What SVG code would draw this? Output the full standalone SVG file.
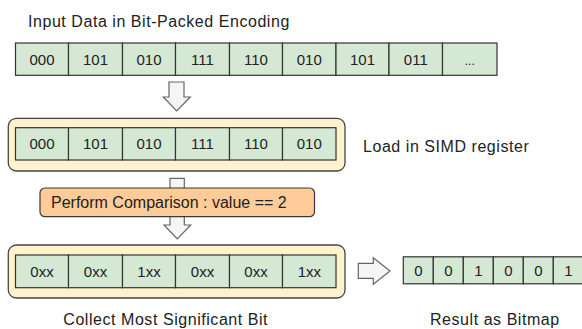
<svg xmlns="http://www.w3.org/2000/svg" width="582" height="329" viewBox="0 0 582 329">
  <style>
    text { font-family: "Liberation Sans", Arial, sans-serif; fill: #222; }
    .label { font-size: 16px; letter-spacing: 0.55px; }
    .cell-text { font-size: 15px; text-anchor: middle; }
    .cell { fill: #d5e8d4; stroke: #333; stroke-width: 1.2; }
    .register { fill: #fff2cc; stroke: #444; stroke-width: 1.3; }
    .op { fill: #ffcc99; stroke: #36393d; stroke-width: 1.2; }
    .arrow { fill: #f5f5f5; stroke: #666; stroke-width: 1.2; stroke-linejoin: miter; }
  </style>

  <!-- Input values -->
  <g id="input">
    <text class="label" x="28" y="27">Input Data in Bit-Packed Encoding</text>
    <rect class="cell" x="15.5" y="43" width="53" height="32.3"/>
    <rect class="cell" x="68.5" y="43" width="54" height="32.3"/>
    <rect class="cell" x="122.5" y="43" width="53" height="32.3"/>
    <rect class="cell" x="175.5" y="43" width="54" height="32.3"/>
    <rect class="cell" x="229.5" y="43" width="53" height="32.3"/>
    <rect class="cell" x="282.5" y="43" width="53.5" height="32.3"/>
    <rect class="cell" x="336" y="43" width="53" height="32.3"/>
    <rect class="cell" x="389" y="43" width="53.5" height="32.3"/>
    <rect class="cell" x="442.5" y="43" width="54.5" height="32.3"/>
    <text class="cell-text" x="42" y="64.5">000</text>
    <text class="cell-text" x="95.5" y="64.5">101</text>
    <text class="cell-text" x="149" y="64.5">010</text>
    <text class="cell-text" x="202.5" y="64.5">111</text>
    <text class="cell-text" x="256" y="64.5">110</text>
    <text class="cell-text" x="309.3" y="64.5">010</text>
    <text class="cell-text" x="362.5" y="64.5">101</text>
    <text class="cell-text" x="415.8" y="64.5">011</text>
    <text class="cell-text" x="469.8" y="64.5" style="font-size:12px">...</text>
  </g>

  <!-- Connectors -->
  <g id="connectors">
    <path class="arrow" d="M169,82 H184 V97 H190.3 L176.7,111 L163.3,97 H169 Z"/>
    <path class="arrow" d="M170,178.3 H184.3 V225 H190.7 L177.3,239 L164,225 H170 Z"/>
    <path class="arrow" d="M358.3,263.3 H373.3 V257.7 L390,271 L373.3,284.3 V278.3 H358.3 Z"/>
  </g>

  <!-- SIMD register after load -->
  <g id="simd-load">
    <rect class="register" x="8.3" y="118.3" width="336.7" height="52.7" rx="8"/>
    <rect class="cell" x="15.5" y="127.7" width="53" height="32.3"/>
    <rect class="cell" x="68.5" y="127.7" width="54" height="32.3"/>
    <rect class="cell" x="122.5" y="127.7" width="53" height="32.3"/>
    <rect class="cell" x="175.5" y="127.7" width="54" height="32.3"/>
    <rect class="cell" x="229.5" y="127.7" width="53" height="32.3"/>
    <rect class="cell" x="282.5" y="127.7" width="53.5" height="32.3"/>
    <text class="cell-text" x="42" y="149.3">000</text>
    <text class="cell-text" x="95.5" y="149.3">101</text>
    <text class="cell-text" x="149" y="149.3">010</text>
    <text class="cell-text" x="202.5" y="149.3">111</text>
    <text class="cell-text" x="256" y="149.3">110</text>
    <text class="cell-text" x="309.3" y="149.3">010</text>
    <text class="label" x="363" y="152">Load in SIMD register</text>
  </g>

  <!-- Comparison step -->
  <g id="compare">
    <rect class="op" x="40" y="188" width="274.5" height="28.7" rx="5"/>
    <text class="label" x="51" y="208.3" style="letter-spacing:0">Perform Comparison : value == 2</text>
  </g>

  <!-- SIMD register after comparison -->
  <g id="simd-result">
    <rect class="register" x="8.3" y="245" width="336.7" height="53" rx="8"/>
    <rect class="cell" x="15.5" y="255" width="53" height="32.7"/>
    <rect class="cell" x="68.5" y="255" width="54" height="32.7"/>
    <rect class="cell" x="122.5" y="255" width="53" height="32.7"/>
    <rect class="cell" x="175.5" y="255" width="54" height="32.7"/>
    <rect class="cell" x="229.5" y="255" width="53" height="32.7"/>
    <rect class="cell" x="282.5" y="255" width="53.5" height="32.7"/>
    <text class="cell-text" x="42" y="276.7">0xx</text>
    <text class="cell-text" x="95.5" y="276.7">0xx</text>
    <text class="cell-text" x="149" y="276.7">1xx</text>
    <text class="cell-text" x="202.5" y="276.7">0xx</text>
    <text class="cell-text" x="256" y="276.7">0xx</text>
    <text class="cell-text" x="309.3" y="276.7">1xx</text>
    <text class="label" x="63.3" y="325">Collect Most Significant Bit</text>
  </g>

  <!-- Bitmap output -->
  <g id="bitmap">
    <rect class="cell" x="403.3" y="256.8" width="30" height="27"/>
    <rect class="cell" x="433.3" y="256.8" width="30" height="27"/>
    <rect class="cell" x="463.3" y="256.8" width="30" height="27"/>
    <rect class="cell" x="493.3" y="256.8" width="30" height="27"/>
    <rect class="cell" x="523.3" y="256.8" width="30" height="27"/>
    <rect class="cell" x="553.3" y="256.8" width="30" height="27"/>
    <text class="cell-text" x="418.3" y="275.7">0</text>
    <text class="cell-text" x="448.3" y="275.7">0</text>
    <text class="cell-text" x="478.3" y="275.7">1</text>
    <text class="cell-text" x="508.3" y="275.7">0</text>
    <text class="cell-text" x="538.3" y="275.7">0</text>
    <text class="cell-text" x="568.3" y="275.7">1</text>
    <text class="label" x="430" y="325">Result as Bitmap</text>
  </g>
</svg>
